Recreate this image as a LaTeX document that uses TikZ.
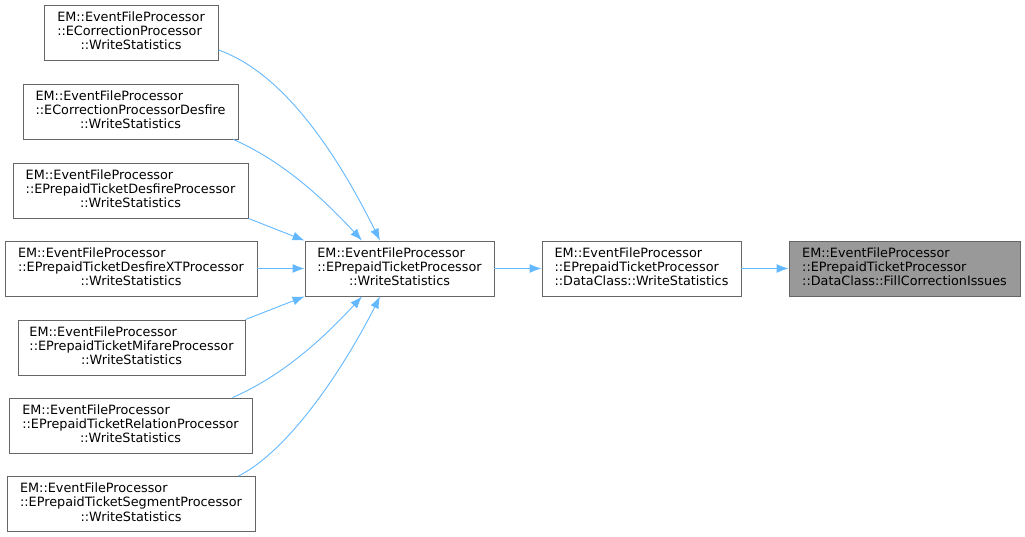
\documentclass[tikz,border=0pt]{standalone}
\usepackage{fontspec}
\setmainfont{DejaVu Sans}
\usetikzlibrary{arrows.meta}
\definecolor{edgeblue}{HTML}{63B8FF}
\definecolor{boxgray}{HTML}{666666}
\definecolor{hlfill}{HTML}{999999}
\newcommand{\lbl}[3]{\begin{tabular}{@{}l@{}}#1\\#2\\\multicolumn{1}{@{}c@{}}{#3}\end{tabular}}
\newcommand{\lbll}[3]{\begin{tabular}{@{}l@{}}#1\\#2\\#3\end{tabular}}
\begin{document}
\begin{tikzpicture}[x=1pt,y=-1pt,
  fnbox/.style={draw=boxgray,line width=0.9pt,fill=white,inner sep=0pt,
    font=\fontsize{12.8}{14.2}\selectfont,
    minimum height=55pt},
  edge/.style={draw=edgeblue,line width=0.9pt,-{Latex[length=12pt,width=9pt]}}]
\useasboundingbox (0,0) rectangle (1025,537);
\node[fnbox,minimum width=174pt] (a1) at (131,32.5) {\lbl{EM::EventFileProcessor}{::ECorrectionProcessor}{::WriteStatistics}};
\node[fnbox,minimum width=215pt] (a2) at (130.5,111.5) {\lbl{EM::EventFileProcessor}{::ECorrectionProcessorDesfire}{::WriteStatistics}};
\node[fnbox,minimum width=235pt] (a3) at (130.5,190.5) {\lbl{EM::EventFileProcessor}{::EPrepaidTicketDesfireProcessor}{::WriteStatistics}};
\node[fnbox,minimum width=252pt] (a4) at (131,268.5) {\lbl{EM::EventFileProcessor}{::EPrepaidTicketDesfireXTProcessor}{::WriteStatistics}};
\node[fnbox,minimum width=227pt] (a5) at (131.5,347.5) {\lbl{EM::EventFileProcessor}{::EPrepaidTicketMifareProcessor}{::WriteStatistics}};
\node[fnbox,minimum width=243pt] (a6) at (130.5,425.5) {\lbl{EM::EventFileProcessor}{::EPrepaidTicketRelationProcessor}{::WriteStatistics}};
\node[fnbox,minimum width=248pt] (a7) at (131,504) {\lbl{EM::EventFileProcessor}{::EPrepaidTicketSegmentProcessor}{::WriteStatistics}};
\node[fnbox,minimum width=189pt] (c) at (399.5,268.5) {\lbl{EM::EventFileProcessor}{::EPrepaidTicketProcessor}{::WriteStatistics}};
\node[fnbox,minimum width=199pt] (d) at (641.5,268.5) {\lbll{EM::EventFileProcessor}{::EPrepaidTicketProcessor}{::DataClass::WriteStatistics}};
\node[fnbox,minimum width=231pt,fill=hlfill] (f) at (904.5,268.5) {\lbll{EM::EventFileProcessor}{::EPrepaidTicketProcessor}{::DataClass::FillCorrectionIssues}};
\draw[edge] (a1.east |- 0,50) .. controls (290,75) and (345,170) .. ([xshift=-19.5pt]c.north);
\draw[edge] (a2.south east) ++(-5,0) .. controls (280,160) and (320,195) .. ([xshift=-37.5pt]c.north);
\draw[edge] (a3.south east) -- (c.north west);
\draw[edge] (a4) -- (c);
\draw[edge] (a5.north east) -- (c.south west);
\draw[edge] (a6.north east) ++(-20,0) .. controls (280,377) and (320,342) .. ([xshift=-37.5pt]c.south);
\draw[edge] (a7.north east) ++(-17,0) .. controls (290,450) and (345,366) .. ([xshift=-19.5pt]c.south);
\draw[edge] (c) -- (d);
\draw[edge] (d) -- (f);
\end{tikzpicture}
\end{document}
